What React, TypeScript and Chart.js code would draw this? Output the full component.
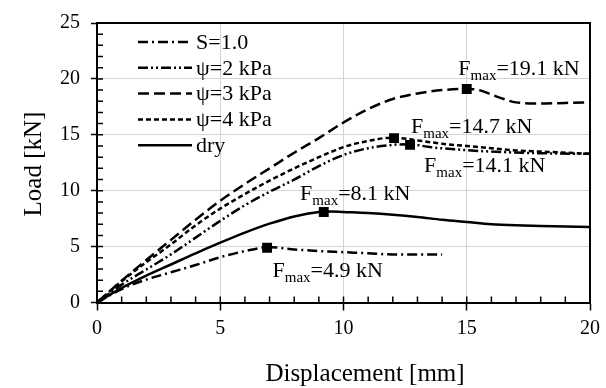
import React, { useEffect, useRef } from 'react';
import { Chart, registerables } from 'chart.js';

Chart.register(...registerables);

const FONT = "'Liberation Serif', 'Times New Roman', serif";

// ---- data ----
const seriesNames = ['S=1.0', 'ψ=2 kPa', 'ψ=3 kPa', 'ψ=4 kPa', 'dry'];

const s10X = [0, 1, 2, 3, 4, 5, 6, 7, 8, 9, 10, 11, 12, 13, 14];
const s10Y = [0, 1.2, 2.05, 2.7, 3.35, 4.05, 4.6, 4.95, 4.75, 4.6, 4.5, 4.4, 4.3, 4.3, 4.3];

const psi2X = [0, 1, 2, 3, 4, 5, 6, 7, 8, 9, 10, 11, 12, 12.7, 13.5, 14.5, 16, 18, 20];
const psi2Y = [0, 1.6, 2.95, 4.3, 5.8, 7.3, 8.7, 9.9, 11.0, 12.2, 13.2, 13.8, 14.1, 14.15, 13.9, 13.7, 13.5, 13.35, 13.3];

const psi3X = [0, 1, 2, 3, 4, 5, 6, 7, 8, 9, 10, 11, 12, 13, 14, 15, 15.5, 16, 16.5, 17, 18, 19, 20];
const psi3Y = [0, 1.95, 3.8, 5.6, 7.4, 9.1, 10.6, 12.0, 13.4, 14.7, 16.1, 17.3, 18.2, 18.7, 19.0, 19.1, 19.0, 18.6, 18.2, 17.9, 17.8, 17.85, 17.9];

const psi4X = [0, 1, 2, 3, 4, 5, 6, 7, 8, 9, 10, 11, 12, 13, 14, 15, 16, 17, 18, 19, 20];
const psi4Y = [0, 1.9, 3.6, 5.2, 6.9, 8.4, 9.7, 10.9, 12.0, 13.0, 13.9, 14.45, 14.75, 14.5, 14.2, 14.0, 13.8, 13.6, 13.5, 13.4, 13.3];

const dryX = [0, 1, 2, 3, 4, 5, 6, 7, 8, 9, 9.5, 10, 11, 12, 13, 14, 15, 16, 17, 18, 19, 20];
const dryY = [0, 1.3, 2.4, 3.4, 4.4, 5.35, 6.25, 7.05, 7.7, 8.1, 8.15, 8.1, 8.0, 7.85, 7.65, 7.4, 7.2, 7.0, 6.9, 6.85, 6.8, 6.75];

const peakX = [6.9, 12.7, 15.0, 12.05, 9.2];
const peakY = [4.9, 14.1, 19.1, 14.7, 8.1];
const peakLabels = ['4.9', '14.1', '19.1', '14.7', '8.1'];

const xTicks = [0, 5, 10, 15, 20];
const yTicks = [0, 5, 10, 15, 20, 25];

// ---- styles (not data) ----
const dashes = [
  [10, 4, 2, 4],
  [10, 3, 2, 3, 2, 3],
  [11, 5],
  [5, 3],
  [],
];
// annotation anchors (text left, baseline) in axis units
const annotPos = [
  { x: 7.12, y: 2.24 },
  { x: 13.27, y: 11.67 },
  { x: 14.66, y: 20.37 },
  { x: 12.74, y: 15.15 },
  { x: 8.24, y: 9.2 },
];

const toPts = (xs: number[], ys: number[]) => xs.map((v, i) => ({ x: v, y: ys[i] }));

const decorPlugin = {
  id: 'decor',
  afterDraw(chart: any) {
    const { ctx, chartArea: a } = chart;
    const xs = chart.scales.x;
    const ys = chart.scales.y;
    ctx.save();
    // top & right frame
    ctx.strokeStyle = '#000';
    ctx.lineWidth = 2;
    ctx.setLineDash([]);
    ctx.beginPath();
    ctx.moveTo(a.left - 1, a.top);
    ctx.lineTo(a.right, a.top);
    ctx.lineTo(a.right, a.bottom + 1);
    ctx.stroke();
    // minor inward ticks
    ctx.lineWidth = 1.5;
    ctx.beginPath();
    for (let v = xs.min; v <= xs.max; v += 1) {
      const px = xs.getPixelForValue(v);
      ctx.moveTo(px, a.bottom);
      ctx.lineTo(px, a.bottom - 6);
    }
    for (let v = ys.min; v <= ys.max; v += 1) {
      const py = ys.getPixelForValue(v);
      ctx.moveTo(a.left, py);
      ctx.lineTo(a.left + 6, py);
    }
    ctx.stroke();

    // axis titles
    ctx.fillStyle = '#000';
    ctx.font = `25px ${FONT}`;
    ctx.textAlign = 'center';
    ctx.textBaseline = 'alphabetic';
    ctx.fillText('Displacement [mm]', 365, 381);
    ctx.save();
    ctx.translate(41, 164);
    ctx.rotate(-Math.PI / 2);
    ctx.fillText('Load [kN]', 0, 0);
    ctx.restore();

    // legend
    const rowY0 = 42;
    const rowStep = 25.8;
    seriesNames.forEach((name, i) => {
      const ry = rowY0 + i * rowStep;
      ctx.beginPath();
      ctx.setLineDash(dashes[i]);
      ctx.lineWidth = 2.5;
      ctx.moveTo(138, ry);
      ctx.lineTo(192, ry);
      ctx.stroke();
      ctx.setLineDash([]);
      ctx.font = `22px ${FONT}`;
      ctx.textAlign = 'left';
      ctx.textBaseline = 'middle';
      ctx.fillText(name, 196, ry + 1);
    });

    // peak annotations
    ctx.textBaseline = 'alphabetic';
    ctx.textAlign = 'left';
    peakLabels.forEach((lab, i) => {
      let px = xs.getPixelForValue(annotPos[i].x);
      const py = ys.getPixelForValue(annotPos[i].y);
      ctx.font = `22px ${FONT}`;
      ctx.fillText('F', px, py);
      px += ctx.measureText('F').width;
      ctx.font = `15px ${FONT}`;
      ctx.fillText('max', px, py + 5);
      px += ctx.measureText('max').width;
      ctx.font = `22px ${FONT}`;
      ctx.fillText(`=${lab} kN`, px, py);
    });
    ctx.restore();
  },
};

export default function App() {
  const ref = useRef<HTMLCanvasElement>(null);
  useEffect(() => {
    if (!ref.current) return;
    const seriesPts = [
      toPts(s10X, s10Y),
      toPts(psi2X, psi2Y),
      toPts(psi3X, psi3Y),
      toPts(psi4X, psi4Y),
      toPts(dryX, dryY),
    ];
    const datasets: any[] = seriesPts.map((pts, i) => ({
      label: seriesNames[i],
      data: pts,
      borderColor: '#000',
      backgroundColor: '#000',
      borderWidth: 2.5,
      borderDash: dashes[i],
      pointRadius: 0,
      cubicInterpolationMode: 'monotone',
      fill: false,
    }));
    datasets.push({
      type: 'scatter',
      label: 'Fmax',
      data: toPts(peakX, peakY),
      pointStyle: 'rect',
      pointRadius: 7,
      backgroundColor: '#000',
      borderColor: '#000',
      borderWidth: 0,
      showLine: false,
    });
    const chart = new Chart(ref.current, {
      type: 'line',
      data: { datasets },
      plugins: [decorPlugin],
      options: {
        responsive: false,
        animation: false,
        layout: { padding: { top: 15, right: 10, left: 0, bottom: 0 } },
        plugins: { legend: { display: false }, tooltip: { enabled: false } },
        scales: {
          x: {
            type: 'linear',
            min: 0,
            max: 20,
            afterFit: (s: any) => { s.height = 85.5; },
            afterBuildTicks: (s: any) => { s.ticks = xTicks.map((v) => ({ value: v })); },
            ticks: { font: { family: FONT, size: 20 }, color: '#000', padding: 6, maxRotation: 0 },
            grid: { color: '#d4d4d4', lineWidth: 1, tickColor: '#000', tickLength: 8, tickWidth: 1.5 },
            border: { display: true, color: '#000', width: 2 },
          },
          y: {
            type: 'linear',
            min: 0,
            max: 25,
            afterFit: (s: any) => { s.width = 97; },
            afterBuildTicks: (s: any) => { s.ticks = yTicks.map((v) => ({ value: v })); },
            ticks: { font: { family: FONT, size: 20 }, color: '#000', padding: 11 },
            grid: { color: '#d4d4d4', lineWidth: 1, tickColor: '#000', tickLength: 6, tickWidth: 1.5 },
            border: { display: true, color: '#000', width: 2 },
          },
        },
      },
    });
    return () => chart.destroy();
  }, []);
  return (
    <div style={{ position: 'absolute', left: 0, top: 0, width: 606, height: 388, background: '#fff' }}>
      <canvas ref={ref} width={606} height={388} style={{ display: 'block' }} />
    </div>
  );
}
